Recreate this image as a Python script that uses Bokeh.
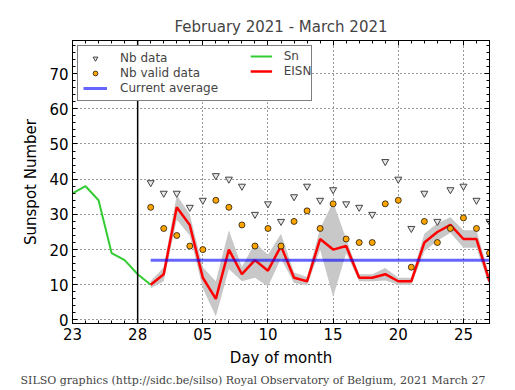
import pandas as pd
from bokeh.plotting import figure
from bokeh.models import (Range1d, SingleIntervalTicker, LinearAxis, Span, Legend,
                          LegendItem, Title, ColumnDataSource, CustomJSTickFormatter)
from bokeh.embed import file_html
from bokeh.resources import INLINE

# ---------------- data ----------------
start_date = "2021-02-23"
sn_dates = ["2021-02-23", "2021-02-24", "2021-02-25", "2021-02-26",
            "2021-02-27", "2021-02-28", "2021-03-01"]
sn_values = [36, 38, 34, 19, 17, 13, 10]

obs_dates = ["2021-03-%02d" % d for d in range(1, 28)]
nb_data = [39, 36, 36, 32, 34, 41, 40, 38, 30, 33, 28, 35, 38, 34, 37, 33, 32, 30,
           45, 40, 26, 36, 28, 37, 38, 34, 28]
nb_valid = [32, 26, 24, 21, 20, 34, 32, 27, 21, 26, 21, 28, 31, 26, 33, 23, 22, 22,
            33, 34, 15, 28, 22, 26, 29, 26, 19]
eisn = [10, 13, 32, 27, 12, 6, 20, 13, 17, 14, 21, 12, 11, 23, 20, 21, 12, 12,
        13, 11, 11, 22, 25, 27, 23, 23, 11]
eisn_err = [1, 2, 3.5, 3, 3, 5, 5.5, 2, 5, 4.5, 3.5, 1.5, 1.2, 3, 13.5, 2, 1, 1,
            1.8, 1, 1, 2.5, 2.5, 2.2, 2.5, 2.5, 1.5]
current_average = 17.0
month_start_date = "2021-02-28"
tick_dates = ["2021-02-23", "2021-02-28", "2021-03-05", "2021-03-10",
              "2021-03-15", "2021-03-20", "2021-03-25"]
end_date = "2021-03-27"

# ---------------- helpers ----------------
t0 = pd.Timestamp(start_date)


def day_index(dates):
    return [int((pd.Timestamp(d) - t0).days) for d in dates]


sn_x = day_index(sn_dates)
obs_x = day_index(obs_dates)
lower = [v - e for v, e in zip(eisn, eisn_err)]
upper = [v + e for v, e in zip(eisn, eisn_err)]
obs_src = ColumnDataSource(dict(x=obs_x, nb=nb_data, valid=nb_valid, eisn=eisn,
                                lo=lower, hi=upper))
avg_src = ColumnDataSource(dict(x=[obs_x[0], obs_x[-1]],
                                y=[current_average, current_average]))
tick_x = day_index(tick_dates)
tick_labels = {x: pd.Timestamp(d).strftime("%d") for x, d in zip(tick_x, tick_dates)}

FONT = "DejaVu Sans"

p = figure(width=510, height=388, output_backend="svg", toolbar_location=None,
           x_range=Range1d(0, day_index([end_date])[0]),
           y_range=Range1d(-1, 79.4),
           min_border_left=72, min_border_right=21, min_border_top=40,
           min_border_bottom=64)

p.title.text = "February 2021 - March 2021"
p.title.text_font = FONT
p.title.text_font_size = "15px"
p.title.text_font_style = "normal"
p.title.align = "center"

p.outline_line_color = "black"
p.outline_line_width = 1

xt = SingleIntervalTicker(interval=5, num_minor_ticks=5)
yt = SingleIntervalTicker(interval=10, num_minor_ticks=5)

for ax in p.xaxis:
    ax.ticker = xt
    ax.major_label_overrides = tick_labels
    ax.axis_label = "Day of month"
for ax in p.yaxis:
    ax.ticker = yt
    ax.axis_label = "Sunspot Number"

for ax in list(p.xaxis) + list(p.yaxis):
    ax.major_label_text_font = FONT
    ax.major_label_text_font_size = "15px"
    ax.major_label_text_color = "black"
    ax.axis_label_text_font = FONT
    ax.axis_label_text_font_size = "15px"
    ax.axis_label_text_font_style = "normal"
    ax.axis_label_text_color = "black"
    ax.major_tick_in = 5
    ax.major_tick_out = 0
    ax.minor_tick_in = 3
    ax.minor_tick_out = 0
    ax.axis_line_color = "black"
    ax.major_tick_line_color = "black"
    ax.minor_tick_line_color = "black"
    ax.major_label_standoff = 4
p.yaxis.axis_label_standoff = 6
p.xaxis.axis_label_standoff = 6

# mirrored axes (ticks only, no labels)
blank = CustomJSTickFormatter(code="return ''")
top = LinearAxis(ticker=xt, formatter=blank, major_tick_in=5,
                 major_tick_out=0, minor_tick_in=3, minor_tick_out=0,
                 major_label_standoff=0)
right = LinearAxis(ticker=yt, formatter=blank, major_tick_in=5,
                   major_tick_out=0, minor_tick_in=3, minor_tick_out=0,
                   major_label_standoff=0)
p.add_layout(top, "above")
p.add_layout(right, "right")

for g in (p.xgrid, p.ygrid):
    g.grid_line_color = "black"
    g.grid_line_alpha = 0.8
    g.grid_line_dash = "1 3"
    g.grid_line_width = 1
p.xgrid.ticker = xt
p.ygrid.ticker = yt

# ---------------- glyphs ----------------
p.varea(x="x", y1="lo", y2="hi", source=obs_src, fill_color="#c8c8c8", fill_alpha=1)
r_sn = p.line(sn_x, sn_values, line_color="#33cc33", line_width=2)
r_eisn = p.line(x="x", y="eisn", source=obs_src, line_color="red", line_width=2.5)
r_avg = p.line(x="x", y="y", source=avg_src, line_color="blue", line_alpha=0.6,
               line_width=3)
r_nb = p.scatter(x="x", y="nb", source=obs_src, marker="inverted_triangle", size=7,
                 fill_color="#e6e6e6", line_color="#444444", line_width=1)
r_valid = p.scatter(x="x", y="valid", source=obs_src, marker="circle", size=6,
                    fill_color="#ffa500", line_color="black", line_width=0.7)

p.add_layout(Span(location=day_index([month_start_date])[0], dimension="height",
                  line_color="black", line_width=1.5))

# ---------------- legends ----------------
leg1 = Legend(items=[LegendItem(label="Nb data", renderers=[r_nb]),
                     LegendItem(label="Nb valid data", renderers=[r_valid]),
                     LegendItem(label="Current average", renderers=[r_avg])],
              location="top_left", margin=5, padding=5, spacing=1,
              glyph_width=24, glyph_height=12, label_height=12, label_width=186,
              label_standoff=13, label_text_font=FONT, label_text_font_size="12px",
              border_line_color="black", border_line_width=1,
              background_fill_color="white", background_fill_alpha=1)
leg2 = Legend(items=[LegendItem(label="Sn", renderers=[r_sn]),
                     LegendItem(label="EISN", renderers=[r_eisn])],
              location="top_center", margin=9, padding=4, spacing=1,
              glyph_width=22, glyph_height=12, label_height=12,
              label_standoff=12, label_text_font=FONT, label_text_font_size="12px",
              border_line_color=None, background_fill_alpha=0)
p.add_layout(leg1)
p.add_layout(leg2)

footer = Title(text="SILSO graphics (http://sidc.be/silso) Royal Observatory of Belgium, 2021 March 27",
               align="left", offset=-52, standoff=4, text_font="DejaVu Serif",
               text_font_size="11px", text_font_style="normal")
p.add_layout(footer, "below")

open("out.html", "w").write(file_html(p, INLINE))
